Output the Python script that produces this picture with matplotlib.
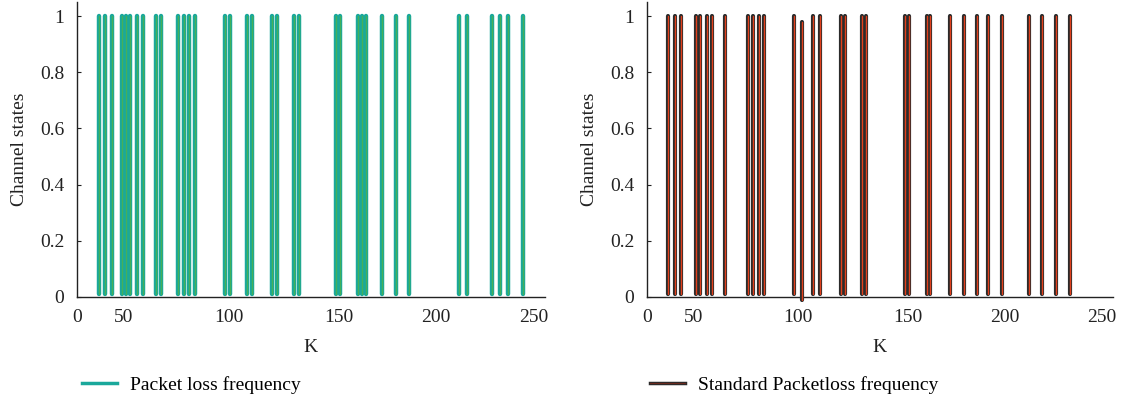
import numpy as np
import matplotlib
matplotlib.use('Agg')
import matplotlib.pyplot as plt
from matplotlib.lines import Line2D

plt.rcParams['font.family'] = ['Liberation Serif', 'DejaVu Serif']

# Packet loss instants (K)
k_loss = [12, 15.5, 19.3, 24.5, 26.8, 29.2, 32.8, 35.9, 43.2, 45.8, 55.4, 58.5, 61.4, 64.6,
          80.9, 83.5, 93.0, 95.7, 106.7, 109.3, 118.7, 121.3, 141.5, 143.9, 153.6, 155.9,
          158.1, 166.8, 174.3, 181.8, 209.1, 213.3, 226.9, 231.4, 236.0, 244.1]

# Standard packet loss instants (K)
k_std = [11.7, 15.3, 19.0, 26.8, 29.0, 32.8, 35.9, 43.2, 55.4, 58.5, 61.7, 64.6, 81.0, 85.2,
         91.4, 95.2, 106.7, 108.7, 118.4, 120.6, 141.7, 143.9, 153.7, 155.7, 166.7, 174.1,
         181.6, 187.6, 195.1, 209.8, 217.3, 225.0, 232.7]
std_low = [0.01] * len(k_std)
std_high = [1.0] * len(k_std)
std_low[13] = -0.01
std_high[13] = 0.98

# x tick labels and where they sit on the K axis in the picture
xtick_pos = [0, 25.7, 83.2, 143.4, 196.5, 250]
xtick_labels = ['0', '50', '100', '150', '200', '250']
yticks = [0, 0.2, 0.4, 0.6, 0.8, 1]

teal = '#1aa89b'
green = '#44b05a'
dark = '#2b2b2b'
red = '#e2401c'

fig = plt.figure(figsize=(11.25, 4.04), dpi=100)
ax1 = fig.add_axes([0.0684, 0.265, 0.416, 0.73])
ax2 = fig.add_axes([0.575, 0.265, 0.414, 0.73])


def style_axis(ax):
    ax.set_xlim(0, 256)
    ax.set_ylim(0, 1.05)
    ax.set_xticks(xtick_pos)
    ax.set_xticklabels(xtick_labels)
    ax.set_yticks(yticks)
    ax.set_yticklabels(['0', '0.2', '0.4', '0.6', '0.8', '1'])
    for s in ['top', 'right']:
        ax.spines[s].set_visible(False)
    for s in ['left', 'bottom']:
        ax.spines[s].set_color('#222222')
        ax.spines[s].set_linewidth(1.0)
    ax.tick_params(axis='x', length=0, pad=9, labelsize=14, colors='#222222')
    ax.tick_params(axis='y', direction='in', length=3, pad=9, labelsize=14, colors='#222222')
    ax.set_xlabel('K', fontsize=14, color='#222222', labelpad=9)
    ax.set_ylabel('Channel states', fontsize=14, color='#222222', labelpad=9)


ax1.vlines(k_loss, 0.01, 1.0, colors=teal, linewidth=3.2, capstyle='round', zorder=3)
ax1.vlines(k_loss, 0.01, 1.0, colors=green, linewidth=1.0, capstyle='round', zorder=4)
style_axis(ax1)

ax2.vlines(k_std, std_low, std_high, colors=dark, linewidth=3.0, capstyle='round',
           zorder=3, clip_on=False)
ax2.vlines(k_std, std_low, std_high, colors=red, linewidth=1.0, capstyle='round',
           zorder=4, clip_on=False)
style_axis(ax2)

h1 = Line2D([], [], color=teal, linewidth=2.5)
fig.legend([h1], ['Packet loss frequency'], loc='center left',
           bbox_to_anchor=(0.057, 0.047), frameon=False, fontsize=14,
           handlelength=1.8, handletextpad=0.7)

h2a = Line2D([], [], color=dark, linewidth=2.5)
h2b = Line2D([], [], color='#6a2a1e', linewidth=0.8)
fig.legend([(h2a, h2b)], ['Standard Packetloss frequency'], loc='center left',
           bbox_to_anchor=(0.562, 0.047), frameon=False, fontsize=14,
           handlelength=1.8, handletextpad=0.7)

fig.savefig('out.png', dpi=100)
